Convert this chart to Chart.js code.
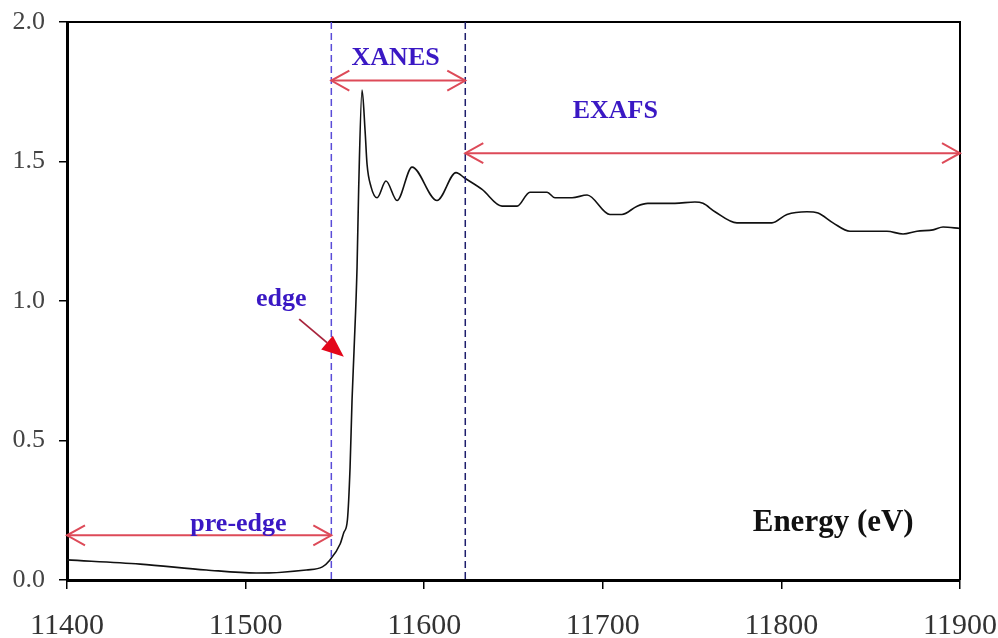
<!DOCTYPE html>
<html>
<head>
<meta charset="utf-8">
<script src="https://cdn.jsdelivr.net/npm/chart.js@4/dist/chart.umd.min.js"></script>
<style>
  html, body { margin: 0; padding: 0; background: #fff; }
  canvas { display: block; }
</style>
</head>
<body>
<canvas id="xasChart" width="998" height="638"></canvas>
<script>
// absorption spectrum, energy in eV
const energy = [11400, 11441, 11478, 11506, 11534, 11543, 11547, 11553, 11555, 11557,
  11558.5, 11559.6, 11560.7, 11562.4, 11563.3, 11565.2, 11566.9, 11568, 11570.2, 11573.6,
  11578.6, 11584.8, 11593.2, 11607.2, 11617.8, 11622.8, 11632.4, 11643.6, 11652, 11659.2,
  11668.8, 11673.2, 11682.8, 11691.2, 11704, 11710.7, 11719.2, 11725.2, 11740.4, 11751.6,
  11756.1, 11762.8, 11775.1, 11794.7, 11803.1, 11814.3, 11820.5, 11828.9, 11838.4, 11859.1,
  11868.1, 11875.9, 11884.9, 11890.5, 11900];
const absorbance = [0.072, 0.057, 0.036, 0.025, 0.036, 0.047, 0.07, 0.13, 0.17, 0.215,
  0.405, 0.645, 0.82, 1.12, 1.40, 1.756, 1.61, 1.49, 1.41, 1.37,
  1.43, 1.36, 1.48, 1.36, 1.46, 1.44, 1.40, 1.34, 1.34, 1.39,
  1.39, 1.37, 1.37, 1.38, 1.31, 1.31, 1.34, 1.35, 1.35, 1.355,
  1.35, 1.32, 1.28, 1.28, 1.31, 1.32, 1.315, 1.28, 1.25, 1.25,
  1.24, 1.25, 1.255, 1.265, 1.26];

const energyRange = [11400, 11900];
const energyStep = 100;
const absRange = [0, 2];
const absStep = 0.5;

// region boundaries (eV) and the labelled spans
const edgeBounds = [11548, 11623];
const regionNames = ["pre-edge", "XANES", "EXAFS"];
const regionSpans = [[11400, 11548], [11548, 11623], [11623, 11900]];
const regionArrowLevel = [0.16, 1.79, 1.53];
const regionLabelAt = [[11496, 0.20], [11584, 1.87], [11707, 1.68]];
const edgeLabelAt = [11520, 1.005];
const edgePointer = [[11530, 0.935], [11555, 0.80]];
const axisTitle = "Energy (eV)";
const axisTitleAt = [11829, 0.205];

const labelFont = 'bold 26px "Liberation Serif", "Times New Roman", serif';
const labelColor = "#3a18c4";
const arrowColor = "#dd4a58";

function chevron(ctx, x, y, dir) {
  ctx.beginPath();
  ctx.moveTo(x + dir * 18, y - 10);
  ctx.lineTo(x, y);
  ctx.lineTo(x + dir * 18, y + 10);
  ctx.stroke();
}

const annotations = {
  id: "xasAnnotations",
  afterDatasetsDraw(chart) {
    const { ctx, chartArea: a, scales: { x, y } } = chart;
    ctx.save();

    // frame around plot
    ctx.strokeStyle = "#000";
    ctx.lineWidth = 2;
    ctx.beginPath();
    ctx.moveTo(a.left, a.top);
    ctx.lineTo(a.right, a.top);
    ctx.lineTo(a.right, a.bottom);
    ctx.stroke();

    // dashed region boundaries
    ctx.setLineDash([7, 4]);
    ctx.lineWidth = 1.5;
    ["#5a4cd8", "#1e1e6c"].forEach((c, i) => {
      const px = x.getPixelForValue(edgeBounds[i]);
      ctx.strokeStyle = c;
      ctx.beginPath();
      ctx.moveTo(px, a.top);
      ctx.lineTo(px, a.bottom);
      ctx.stroke();
    });
    ctx.setLineDash([]);

    // double-headed span arrows
    ctx.strokeStyle = arrowColor;
    ctx.lineWidth = 2;
    regionSpans.forEach((span, i) => {
      const x1 = x.getPixelForValue(span[0]);
      const x2 = x.getPixelForValue(span[1]);
      const py = y.getPixelForValue(regionArrowLevel[i]);
      ctx.beginPath();
      ctx.moveTo(x1, py);
      ctx.lineTo(x2, py);
      ctx.stroke();
      chevron(ctx, x1, py, 1);
      chevron(ctx, x2, py, -1);
    });

    // edge pointer
    const tx = x.getPixelForValue(edgePointer[0][0]);
    const ty = y.getPixelForValue(edgePointer[0][1]);
    const hx = x.getPixelForValue(edgePointer[1][0]);
    const hy = y.getPixelForValue(edgePointer[1][1]);
    const ang = Math.atan2(hy - ty, hx - tx);
    const headLen = 22, headHalf = 9;
    const bx = hx - headLen * Math.cos(ang);
    const by = hy - headLen * Math.sin(ang);
    ctx.strokeStyle = "#a8243c";
    ctx.lineWidth = 1.8;
    ctx.beginPath();
    ctx.moveTo(tx, ty);
    ctx.lineTo(bx, by);
    ctx.stroke();
    ctx.fillStyle = "#e3061a";
    ctx.beginPath();
    ctx.moveTo(hx, hy);
    ctx.lineTo(bx - headHalf * Math.sin(ang), by + headHalf * Math.cos(ang));
    ctx.lineTo(bx + headHalf * Math.sin(ang), by - headHalf * Math.cos(ang));
    ctx.closePath();
    ctx.fill();

    // text labels
    ctx.font = labelFont;
    ctx.textAlign = "center";
    ctx.textBaseline = "middle";
    ctx.fillStyle = labelColor;
    regionNames.forEach((name, i) => {
      ctx.fillText(name, x.getPixelForValue(regionLabelAt[i][0]), y.getPixelForValue(regionLabelAt[i][1]));
    });
    ctx.fillText("edge", x.getPixelForValue(edgeLabelAt[0]), y.getPixelForValue(edgeLabelAt[1]));

    ctx.fillStyle = "#111";
    ctx.font = 'bold 31px "Liberation Serif", "Times New Roman", serif';
    ctx.fillText(axisTitle, x.getPixelForValue(axisTitleAt[0]), y.getPixelForValue(axisTitleAt[1]));

    ctx.restore();
  }
};

const tickFont = { family: '"Liberation Serif", "Times New Roman", serif' };

new Chart(document.getElementById("xasChart"), {
  type: "line",
  data: {
    datasets: [{
      data: energy.map((e, i) => ({ x: e, y: absorbance[i] })),
      borderColor: "#111",
      borderWidth: 1.6,
      pointRadius: 0,
      cubicInterpolationMode: "monotone",
      fill: false,
    }],
  },
  options: {
    responsive: false,
    animation: false,
    devicePixelRatio: 1,
    layout: { padding: { top: 22, right: 38, left: 0, bottom: 0 } },
    plugins: { legend: { display: false }, tooltip: { enabled: false } },
    scales: {
      x: {
        type: "linear",
        min: energyRange[0],
        max: energyRange[1],
        // fixed axis band, no extra room for overhanging labels
        afterFit: (s) => { s.height = 58; s.paddingLeft = 0; s.paddingRight = 0; },
        ticks: {
          stepSize: energyStep,
          color: "#333",
          font: { ...tickFont, size: 30 },
          padding: 19,
          maxRotation: 0,
          autoSkip: false,
          callback: (v) => String(v),
        },
        grid: { drawOnChartArea: false, tickLength: 9, color: "#000", lineWidth: 1.5 },
        border: { color: "#000", width: 3 },
      },
      y: {
        min: absRange[0],
        max: absRange[1],
        afterFit: (s) => { s.width = 67; s.paddingTop = 0; s.paddingBottom = 0; },
        ticks: {
          stepSize: absStep,
          color: "#444",
          font: { ...tickFont, size: 26 },
          padding: 14,
          callback: (v) => v.toFixed(1),
        },
        grid: { drawOnChartArea: false, tickLength: 8, color: "#000", lineWidth: 1.5 },
        border: { color: "#000", width: 3 },
      },
    },
  },
  plugins: [annotations],
});
</script>
</body>
</html>
